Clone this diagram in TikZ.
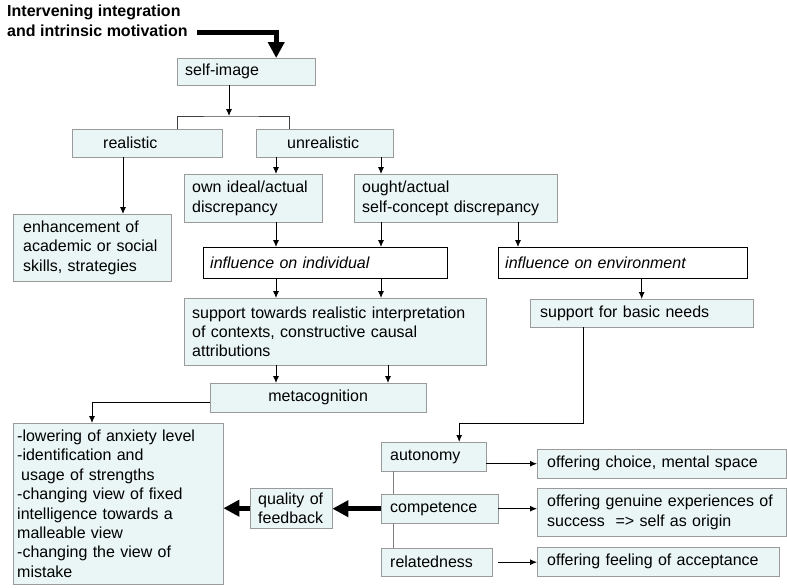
\documentclass[tikz,border=0pt]{standalone}
\usepackage{fontspec}
\setmainfont{Liberation Sans}
\usetikzlibrary{arrows.meta}
\definecolor{boxfill}{HTML}{EAF5F5}
\definecolor{boxline}{HTML}{9A9A9A}

\begin{document}
\begin{tikzpicture}[x=1pt, y=-1pt,
    font=\fontsize{16}{19.4}\selectfont,
    cbox/.style={rectangle, draw=boxline, fill=boxfill, anchor=north west, align=left, inner xsep=8pt, inner ysep=0pt},
    wbox/.style={rectangle, draw=black, fill=white, anchor=north west, align=left, inner xsep=7pt, inner ysep=0pt, font=\fontsize{16}{19.4}\selectfont\itshape},
    arr/.style={-{Latex[length=7pt,width=6pt]}, line width=0.9pt},
    fatarr/.style={-{Triangle[length=16pt,width=16pt]}, line width=5pt}]
    \useasboundingbox (0,0) rectangle (787,587);

    % title and top of the tree
    \node[anchor=north west, align=left, inner sep=0pt, font=\fontsize{16}{20}\selectfont\bfseries] (title) at (7,5) {Intervening integration\\and intrinsic motivation};
    \node[cbox, text width=122pt, minimum height=27pt] (selfimg) at (177,58) {self-image};
    \node[cbox, text width=134pt, minimum height=28pt] (realistic) at (72,129) {\hspace*{23pt}realistic};
    \node[cbox, text width=121pt, minimum height=28pt] (unrealistic) at (256,129) {\hspace*{23pt}unrealistic};
    \node[cbox, inner xsep=10pt, text width=138pt, minimum height=67pt] (enhance) at (13,214) {enhancement of\\academic or social\\skills, strategies};
    \node[cbox, text width=122pt, minimum height=48pt] (ownideal) at (184,174) {own ideal/actual\\discrepancy};
    \node[cbox, text width=187pt, minimum height=48pt] (ought) at (354,174) {ought/actual\\self-concept discrepancy};

    % influences
    \node[wbox, text width=230pt, minimum height=31pt] (indiv) at (203,247) {influence on individual};
    \node[wbox, text width=235pt, minimum height=31pt] (env) at (498,247) {influence on environment};
    \node[cbox, text width=286pt, minimum height=67pt] (towards) at (184,298) {support towards realistic interpretation\\of contexts, constructive causal\\attributions};
    \node[cbox, inner xsep=10pt, text width=203pt, minimum height=28pt] (basic) at (530,299) {support for basic needs};
    \node[cbox, align=center, text width=200pt, minimum height=29pt] (metacog) at (210,383) {metacognition};

    % lower part
    \node[cbox, inner xsep=4pt, text width=202pt, minimum height=161pt] (bigbox) at (13,423) {-lowering of anxiety level\\-identification and\\\hspace*{4pt}usage of strengths\\-changing view of fixed\\intelligence towards a\\malleable view\\-changing the view of\\mistake};
    \node[cbox, text width=66pt, minimum height=40pt] (quality) at (250,488) {quality of\\feedback};
    \node[cbox, inner xsep=9pt, text width=87pt, minimum height=29pt] (autonomy) at (381,442) {autonomy};
    \node[cbox, inner xsep=9pt, text width=99pt, minimum height=29pt] (competence) at (381,494) {competence};
    \node[cbox, inner xsep=9pt, text width=93pt, minimum height=28pt] (relatedness) at (381,548) {relatedness};
    \node[cbox, inner xsep=10pt, text width=229pt, minimum height=29pt] (offerA) at (537,449) {offering choice, mental space};
    \node[cbox, inner xsep=10pt, text width=229pt, minimum height=48pt] (offerB) at (537,488) {offering genuine experiences of\\success~~=> self as origin};
    \node[cbox, inner xsep=10pt, text width=222pt, minimum height=29pt] (offerC) at (537,547) {offering feeling of acceptance};

    % columns for the connectors
    \coordinate (split) at (229,116);
    \coordinate (colA) at (276,0);
    \coordinate (colB) at (381,0);
    \coordinate (colC) at (518,0);
    \coordinate (colD) at (388,0);
    \coordinate (colR) at (123,0);
    \coordinate (colL) at (92,0);
    \coordinate (colG) at (393,0);
    \coordinate (tstart) at (197,32);
    \coordinate (needbend) at (583,423);

    % connectors
    \draw[fatarr] (tstart) -| ([xshift=30pt]selfimg.north);
    \draw[arr] (selfimg.south -| split) -- (split);
    \draw[line width=0.9pt, black!75] ([xshift=30pt]realistic.north) |- (split) -| ([xshift=-35.5pt]unrealistic.north);
    \draw[arr] (realistic.south -| colR) -- (enhance.north -| colR);
    \draw[arr] (unrealistic.south -| colA) -- (ownideal.north -| colA);
    \draw[arr] (unrealistic.south -| colB) -- (ought.north -| colB);
    \draw[arr] (ownideal.south -| colA) -- (indiv.north -| colA);
    \draw[arr] (ought.south -| colB) -- (indiv.north -| colB);
    \draw[arr] (ought.south -| colC) -- (env.north -| colC);
    \draw[arr] (indiv.south -| colA) -- (towards.north -| colA);
    \draw[arr] (indiv.south -| colB) -- (towards.north -| colB);
    \draw[arr] (env.south -| basic.north) -- (basic.north);
    \draw[arr] (towards.south -| colA) -- (metacog.north -| colA);
    \draw[arr] (towards.south -| colD) -- (metacog.north -| colD);
    \draw[arr] ([yshift=-5pt]metacog.west) -| (bigbox.north -| colL);
    \draw[arr] (basic.south -| needbend) -- (needbend) -| ([xshift=25.5pt]autonomy.north);
    \draw[line width=0.9pt, gray] (autonomy.south -| colG) -- (competence.north -| colG);
    \draw[line width=0.9pt, gray] (competence.south -| colG) -- (relatedness.north -| colG);
    \draw[arr] (autonomy.east |- offerA.west) -- (offerA.west);
    \draw[arr] (competence.east) -- (competence.east -| offerB.west);
    \draw[arr] ([xshift=6pt]relatedness.east) -- (relatedness.east -| offerC.west);
    \draw[fatarr] (competence.west) -- (competence.west -| quality.east);
    \draw[fatarr] (quality.west) -- (quality.west -| bigbox.east);
\end{tikzpicture}
\end{document}
